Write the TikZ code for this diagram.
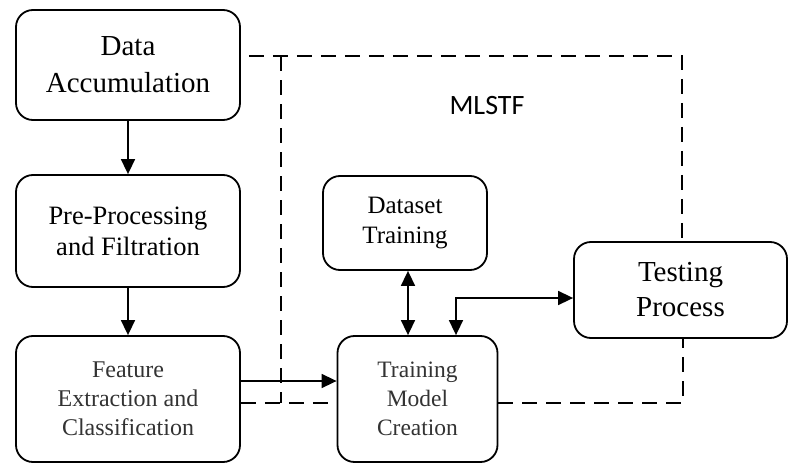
\documentclass[tikz,border=0pt]{standalone}
\usepackage{fontspec}
\setmainfont{Liberation Serif}
\newfontfamily\calib{Carlito}
\usetikzlibrary{arrows.meta,calc}
\begin{document}
\begin{tikzpicture}[x=1pt,y=-1pt,
  box/.style={draw=black,line width=1.8pt,rounded corners=17pt,align=center,inner sep=0pt,fill=none},
  conn/.style={line width=1.6pt,-{Triangle[length=15pt,width=14pt]}},
  dconn/.style={line width=1.6pt,{Triangle[length=15pt,width=14pt]}-{Triangle[length=15pt,width=14pt]}},
  dashline/.style={line width=2.2pt,dash pattern=on 15pt off 9pt}]
\useasboundingbox (0,0) rectangle (788,463);
\node[box,minimum width=224pt,minimum height=110pt,font=\fontsize{29}{37}\selectfont] (da) at (128,65) {Data\\Accumulation};
\node[box,minimum width=224pt,minimum height=112pt,font=\fontsize{26.5}{31}\selectfont] (pp) at (128,231) {Pre-Processing\\and Filtration};
\node[box,minimum width=224pt,minimum height=126pt,text=black!80,font=\fontsize{24}{29}\selectfont] (fe) at (128,399) {Feature\\Extraction and\\Classification};
\node[box,minimum width=164pt,minimum height=94pt,font=\fontsize{25}{30}\selectfont] (ds) at (405,223) {Dataset\\Training};
\node[box,minimum width=160pt,minimum height=126pt,text=black!80,font=\fontsize{23.5}{29}\selectfont] (tm) at (417.5,399) {Training\\Model\\Creation};
\node[box,minimum width=213pt,minimum height=96pt,font=\fontsize{29}{35}\selectfont] (tp) at (680.5,290) {Testing\\Process};
\node[font=\calib\fontsize{28}{34}\selectfont] (ml) at (487,106) {MLSTF};
% solid connectors
\draw[conn] (da.south) -- (pp.north);
\draw[conn] (pp.south) -- (fe.north);
\draw[conn] (fe.east |- 0,381) -- (tm.west |- 0,381);
\draw[dconn] (ds.south -| 408,0) -- (tm.north -| 408,0);
\draw[dconn] (tm.north -| 456,0) |- (tp.west |- 0,298);
% dashed
\coordinate (c1) at (682,56);
\coordinate (c2) at (281,56);
\coordinate (c3) at (281,403);
\coordinate (c4) at (683,403);
\draw[dashline] ($(da.east |- c1)+(8,0)$) -- (c1) -- (tp.north -| c1);
\draw[dashline] (c2) -- (c3);
\draw[dashline] (fe.east |- c3) -- (tm.west |- c3);
\draw[dashline] (tm.east |- c4) -- (c4) -- (tp.south -| c4);
\end{tikzpicture}
\end{document}
